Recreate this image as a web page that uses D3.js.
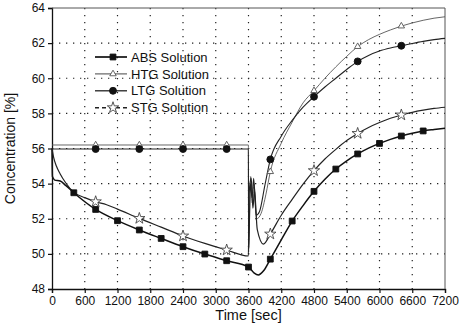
<!DOCTYPE html>
<html>
<head>
<meta charset="utf-8">
<script src="https://cdn.jsdelivr.net/npm/d3@7"></script>
<style>
  html, body { margin: 0; padding: 0; background: #fff; }
  svg { display: block; font-family: 'Liberation Sans', Arial, sans-serif; }
</style>
</head>
<body>
<figure id="chart" style="margin:0"></figure>
<script>
// ---- data: [time sec, concentration %] ----
const absData = [
  [0, 56.0], [8, 54.4], [50, 54.2], [150, 54.15], [250, 53.9], [400, 53.48],
  [800, 52.53], [1200, 51.89], [1600, 51.36], [2000, 50.88], [2400, 50.41],
  [2800, 49.99], [3200, 49.61], [3600, 49.25], [3700, 48.92], [3780, 48.8],
  [3880, 49.05], [4000, 49.7], [4200, 50.8], [4400, 51.87], [4600, 52.75],
  [4800, 53.56], [5000, 54.25], [5200, 54.83], [5400, 55.3], [5600, 55.69],
  [5800, 56.02], [6000, 56.29], [6200, 56.52], [6400, 56.71], [6600, 56.87],
  [6800, 57.0], [7000, 57.08], [7200, 57.15]
];
const htgData = [
  [0, 56.2], [800, 56.2], [1600, 56.2], [2400, 56.2], [3200, 56.2], [3598, 56.2],
  [3602, 50.3], [3640, 54.4], [3670, 52.9], [3700, 54.0], [3750, 52.0],
  [3830, 52.3], [3920, 53.4], [4000, 54.68], [4200, 56.3], [4400, 57.5],
  [4600, 58.6], [4800, 59.29], [5000, 60.0], [5200, 60.65], [5400, 61.25],
  [5600, 61.8], [5800, 62.2], [6000, 62.5], [6200, 62.75], [6400, 62.97],
  [6600, 63.15], [6800, 63.3], [7000, 63.42], [7200, 63.5]
];
const ltgData = [
  [0, 55.97], [800, 55.97], [1600, 55.97], [2400, 55.97], [3200, 55.97], [3598, 55.97],
  [3602, 50.1], [3635, 54.0], [3665, 53.2], [3695, 54.3], [3740, 52.2],
  [3800, 52.4], [3900, 53.9], [4000, 55.38], [4200, 56.7], [4400, 57.6],
  [4600, 58.35], [4800, 58.95], [5000, 59.5], [5200, 60.0], [5400, 60.5],
  [5600, 60.96], [5800, 61.3], [6000, 61.55], [6200, 61.72], [6400, 61.85],
  [6600, 61.98], [6800, 62.1], [7000, 62.2], [7200, 62.27]
];
const stgData = [
  [0, 56.0], [30, 55.5], [80, 55.0], [150, 54.55], [250, 54.05], [400, 53.5],
  [600, 53.2], [800, 52.97], [1000, 52.8], [1200, 52.55], [1600, 52.02],
  [2000, 51.52], [2400, 51.02], [2800, 50.6], [3200, 50.22], [3598, 49.88],
  [3610, 53.4], [3650, 54.3], [3680, 52.6], [3710, 53.6], [3760, 51.4],
  [3874, 50.56], [4000, 51.13], [4200, 52.2], [4400, 53.1], [4600, 53.97],
  [4800, 54.74], [5000, 55.4], [5200, 55.95], [5400, 56.45], [5600, 56.86],
  [5800, 57.2], [6000, 57.48], [6200, 57.72], [6400, 57.91], [6600, 58.06],
  [6800, 58.18], [7000, 58.28], [7200, 58.35]
];
const seriesNames = ['ABS Solution', 'HTG Solution', 'LTG Solution', 'STG Solution'];
const markerEvery = [400, 800, 800, 800];   // marker spacing in seconds
const xTicks = [0, 600, 1200, 1800, 2400, 3000, 3600, 4200, 4800, 5400, 6000, 6600, 7200];
const yTicks = [48, 50, 52, 54, 56, 58, 60, 62, 64];

const W = 459, H = 335;
const margin = { left: 52, right: 14, top: 8, bottom: 46 };
const width = W - margin.left - margin.right;
const height = H - margin.top - margin.bottom;

const svg = d3.select('figure#chart').append('svg')
  .attr('width', W).attr('height', H);
const g = svg.append('g')
  .attr('transform', 'translate(' + margin.left + ',' + margin.top + ')');

const x = d3.scaleLinear().domain([0, 7200]).range([0, width]);
const y = d3.scaleLinear().domain([48, 64]).range([height, 0]);

// dotted grid
g.append('g').selectAll('line')
  .data(yTicks.slice(1, -1)).enter().append('line')
  .attr('x1', 0).attr('x2', width)
  .attr('y1', d => y(d)).attr('y2', d => y(d))
  .attr('stroke', '#222').attr('stroke-width', 1.2)
  .attr('stroke-dasharray', '1.3,5.7');
g.append('g').selectAll('line')
  .data(xTicks.slice(1, -1)).enter().append('line')
  .attr('y1', 0).attr('y2', height)
  .attr('x1', d => x(d)).attr('x2', d => x(d))
  .attr('stroke', '#222').attr('stroke-width', 1.2)
  .attr('stroke-dasharray', '1.3,5.7');

// axes
const xAxis = g.append('g')
  .attr('transform', 'translate(0,' + height + ')')
  .call(d3.axisBottom(x).tickValues(xTicks).tickSize(4).tickPadding(3).tickFormat(d3.format('d')));
const yAxis = g.append('g')
  .call(d3.axisLeft(y).tickValues(yTicks).tickSize(4).tickPadding(3).tickFormat(d3.format('d')));
[xAxis, yAxis].forEach(a => {
  a.select('.domain').attr('stroke', '#111').attr('stroke-width', 1.3);
  a.selectAll('.tick line').attr('stroke', '#111').attr('stroke-width', 1.2);
  a.selectAll('text').style('font-size', '12px').attr('fill', '#111')
    .style('font-family', "'Liberation Sans', Arial, sans-serif");
});
// frame top and right
g.append('line').attr('x1', 0).attr('x2', width).attr('y1', 0).attr('y2', 0)
  .attr('stroke', '#555').attr('stroke-width', 1);
g.append('line').attr('x1', width).attr('x2', width).attr('y1', 0).attr('y2', height)
  .attr('stroke', '#555').attr('stroke-width', 1);

// series
const allData = [absData, htgData, ltgData, stgData];
const lineColor = ['#111', '#555', '#222', '#222'];
const lineWidth = [1.5, 0.9, 1.1, 1.2];
const symbols = [d3.symbolSquare, d3.symbolTriangle, d3.symbolCircle, d3.symbolStar];
const symSize = [34, 18, 38, 40];
const symFill = ['#111', '#fff', '#111', '#fff'];
const symStroke = ['#111', '#555', '#111', '#444'];

const line = d3.line()
  .x(d => x(d[0]))
  .y(d => y(d[1]))
  .curve(d3.curveMonotoneX);

allData.forEach((data, i) => {
  g.append('path')
    .datum(data)
    .attr('d', line)
    .style('fill', 'none')
    .style('stroke', lineColor[i])
    .style('stroke-width', lineWidth[i]);
});
allData.forEach((data, i) => {
  const marks = data.filter(d => d[0] > 0 && d[0] < 7200 && d[0] % markerEvery[i] === 0);
  g.selectAll('.m' + i)
    .data(marks).enter().append('path')
    .attr('class', 'm' + i)
    .attr('transform', d => 'translate(' + x(d[0]) + ',' + y(d[1]) + ')')
    .attr('d', d3.symbol().type(symbols[i]).size(symSize[i]))
    .attr('fill', symFill[i])
    .attr('stroke', symStroke[i])
    .attr('stroke-width', 0.9);
});

// legend
const legend = g.append('g').attr('transform', 'translate(43,49)');
const legendDash = [null, null, null, '4,3'];
seriesNames.forEach((name, i) => {
  const row = legend.append('g').attr('transform', 'translate(0,' + (i * 16.9) + ')');
  row.append('line').attr('x1', 0).attr('x2', 32).attr('y1', 0).attr('y2', 0)
    .attr('stroke', lineColor[i]).attr('stroke-width', lineWidth[i] + 0.2)
    .attr('stroke-dasharray', legendDash[i]);
  row.append('path')
    .attr('transform', 'translate(18,0)')
    .attr('d', d3.symbol().type(symbols[i]).size(symSize[i]))
    .attr('fill', symFill[i]).attr('stroke', symStroke[i]).attr('stroke-width', 0.9);
  row.append('text').attr('x', 36).attr('y', 4.6)
    .text(name).style('font-size', '13px').attr('fill', '#111');
});

// axis titles
svg.append('text')
  .attr('x', margin.left + width / 2).attr('y', 320)
  .attr('text-anchor', 'middle')
  .style('font-size', '14.5px').attr('fill', '#111')
  .text('Time [sec]');
svg.append('text')
  .attr('transform', 'translate(15,' + (margin.top + height / 2) + ') rotate(-90)')
  .attr('text-anchor', 'middle')
  .style('font-size', '14px').attr('fill', '#111')
  .text('Concentration [%]');
</script>
</body>
</html>
